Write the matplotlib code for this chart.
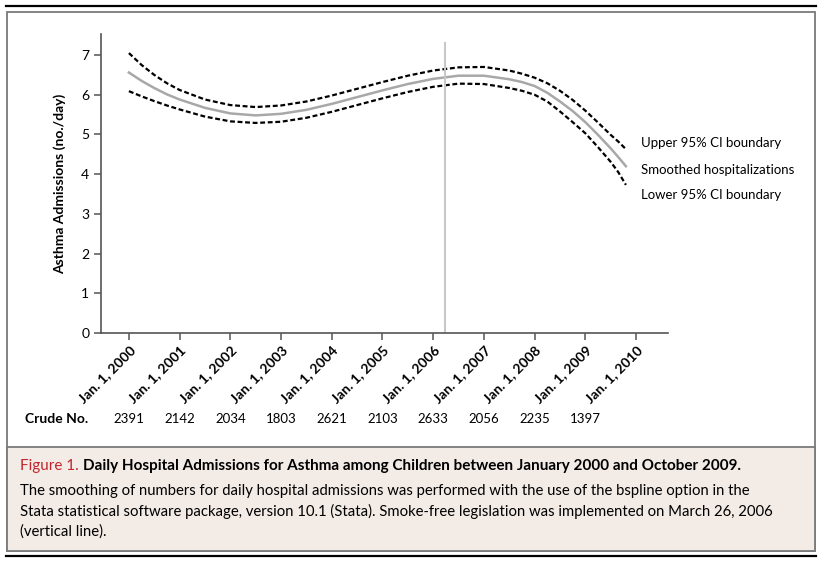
import matplotlib
matplotlib.use("Agg")
import matplotlib.pyplot as plt
from matplotlib.patches import Rectangle
from matplotlib.lines import Line2D

plt.rcParams['font.family'] = ['Lato', 'DejaVu Sans']

# values (x in decimal years)
years = [2000.0, 2000.25, 2000.5, 2000.75, 2001.0, 2001.5, 2002.0, 2002.5, 2003.0, 2003.5,
         2004.0, 2004.5, 2005.0, 2005.5, 2006.0, 2006.5, 2007.0, 2007.5, 2007.75, 2008.0,
         2008.25, 2008.5, 2008.75, 2009.0, 2009.25, 2009.5, 2009.65, 2009.8]
smoothed = [6.56, 6.35, 6.17, 6.01, 5.88, 5.67, 5.53, 5.48, 5.52, 5.62,
            5.77, 5.94, 6.11, 6.27, 6.40, 6.48, 6.48, 6.39, 6.32, 6.22,
            6.05, 5.83, 5.59, 5.31, 4.99, 4.65, 4.43, 4.20]
upper = [7.05, 6.75, 6.50, 6.29, 6.12, 5.88, 5.74, 5.69, 5.73, 5.83,
         5.98, 6.15, 6.32, 6.48, 6.61, 6.69, 6.70, 6.61, 6.53, 6.43,
         6.29, 6.10, 5.87, 5.60, 5.30, 4.99, 4.82, 4.63]
lower = [6.09, 5.96, 5.84, 5.73, 5.63, 5.45, 5.33, 5.29, 5.32, 5.42,
         5.57, 5.74, 5.91, 6.07, 6.20, 6.28, 6.27, 6.17, 6.10, 6.00,
         5.83, 5.58, 5.31, 5.03, 4.68, 4.31, 4.05, 3.73]

tick_years = list(range(2000, 2011))
tick_labels = ["Jan. 1, %d" % y for y in tick_years]
crude = ["2391", "2142", "2034", "1803", "2621", "2103", "2633", "2056", "2235", "1397"]
legislation = 2006.23  # March 26, 2006

W, H = 824, 563
fig = plt.figure(figsize=(W / 100, H / 100), dpi=100)

def fx(px):
    return px / W

def fy(py):
    return 1 - py / H

# frame and caption box
fig.add_artist(Line2D([fx(6), fx(816)], [fy(6), fy(6)], color='black', lw=1.6))
fig.add_artist(Line2D([fx(6), fx(816)], [fy(556), fy(556)], color='black', lw=1.6))
fig.add_artist(Rectangle((fx(7), fy(551)), fx(815) - fx(7), fy(12) - fy(551),
                         fill=False, edgecolor='#7a7a7a', lw=1.3))
fig.add_artist(Rectangle((fx(7), fy(551)), fx(815) - fx(7), fy(447) - fy(551),
                         facecolor='#f3ebe6', edgecolor='#7a7a7a', lw=1.3))

ax = fig.add_axes([fx(101), fy(333), fx(668) - fx(101), fy(34) - fy(333)])
ax.plot(years, smoothed, color='#a8a8a8', lw=1.8)
ax.plot(years, upper, color='black', lw=1.6, ls=(0, (2.2, 1.2)))
ax.plot(years, lower, color='black', lw=1.6, ls=(0, (2.2, 1.2)))
ax.plot([legislation, legislation], [0, 7.3], color='#c8c8c8', lw=1.5)

ax.set_xlim(1999.45, 2010.63)
ax.set_ylim(0, 7.53)
ax.set_yticks(range(0, 8))
ax.set_xticks(tick_years)
ax.set_xticklabels(tick_labels, rotation=45, ha='right', va='top',
                   rotation_mode='anchor', fontweight='bold', fontsize=10)
for s in ['top', 'right']:
    ax.spines[s].set_visible(False)
for s in ['left', 'bottom']:
    ax.spines[s].set_color('#555555')
    ax.spines[s].set_linewidth(1.2)
ax.tick_params(direction='out', length=5, width=1.1, color='#555555', labelsize=10)
ax.tick_params(axis='x', pad=3)
ax.set_ylabel("Asthma Admissions (no./day)", fontweight='bold', fontsize=10, labelpad=11)

# curve labels
ax.text(2010.1, upper[-1] + 0.15, "Upper 95% CI boundary", fontsize=9.5, va='center')
ax.text(2010.1, smoothed[-1] - 0.10, "Smoothed hospitalizations", fontsize=9.5, va='center')
ax.text(2010.1, lower[-1] - 0.25, "Lower 95% CI boundary", fontsize=9.5, va='center')

# crude numbers row
fig.text(fx(25), fy(419), "Crude No.", fontweight='bold', fontsize=10, va='center')
for yr, c in zip(tick_years, crude):
    xd = ax.transData.transform((yr, 0))[0] / W
    fig.text(xd, fy(419), c, fontsize=9.5, ha='center', va='center')

# caption
fig.canvas.draw()
r = fig.canvas.get_renderer()
t1 = fig.text(fx(20), fy(466), "Figure 1.", color='#c0272d', fontsize=11, va='center')
bb = t1.get_window_extent(renderer=r)
fig.text(bb.x1 / W + fx(4), fy(466),
         "Daily Hospital Admissions for Asthma among Children between January 2000 and October 2009.",
         fontweight='bold', fontsize=11, va='center')
body = ["The smoothing of numbers for daily hospital admissions was performed with the use of the bspline option in the",
        "Stata statistical software package, version 10.1 (Stata). Smoke-free legislation was implemented on March 26, 2006",
        "(vertical line)."]
for i, line in enumerate(body):
    fig.text(fx(20), fy(491 + 20.5 * i), line, fontsize=10.7, va='center')

fig.savefig("out.png", dpi=100)
